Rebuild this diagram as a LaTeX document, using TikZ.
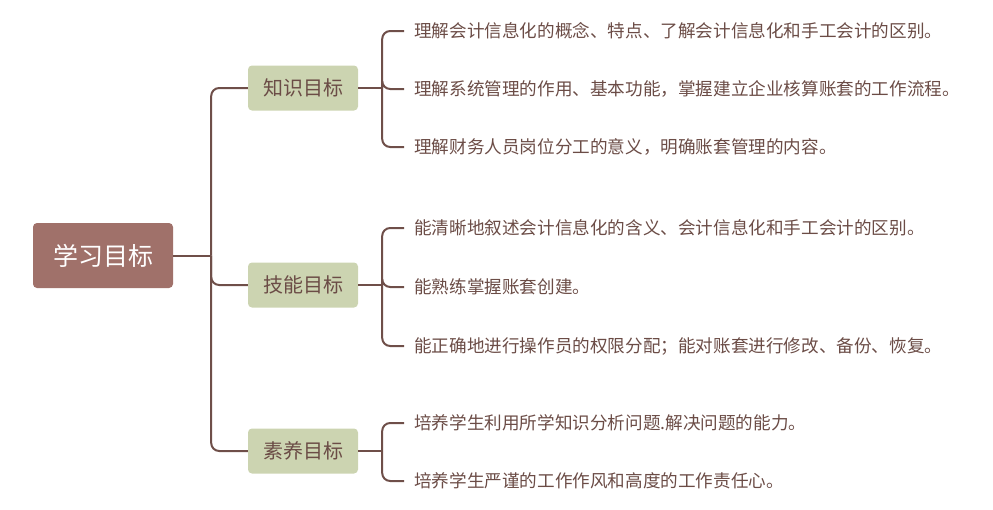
\documentclass[tikz,border=0pt]{standalone}
\usepackage{fontspec}
\usepackage{xcolor}
\usepackage{tikz}
\usetikzlibrary{positioning,calc}
\setmainfont{Noto Sans CJK SC}
\definecolor{rootbrown}{HTML}{A0716A}
\definecolor{branchsage}{HTML}{CCD4B1}
\definecolor{linkbrown}{HTML}{6F4F49}
\definecolor{textbrown}{HTML}{6B4C46}

\begin{document}
\begin{tikzpicture}[x=1pt,y=-1pt,
  rootbox/.style={fill=rootbrown,rounded corners=4pt,minimum width=140pt,minimum height=65pt,
    text=white,font=\fontsize{25}{30}\selectfont},
  branchbox/.style={fill=branchsage,rounded corners=4pt,minimum width=110pt,minimum height=45pt,
    text=textbrown,font=\fontsize{20}{24}\selectfont},
  leaf/.style={anchor=west,inner xsep=10pt,inner ysep=2pt,text=textbrown,font=\fontsize{17.6}{21}\selectfont},
  link/.style={draw=linkbrown,line width=2pt,rounded corners=8pt}]
  \useasboundingbox (0,0) rectangle (993,509);
  % root and branches
  \node[rootbox] (root) at (103,255.5) {学习目标};
  \node[branchbox] (know) at (303,88) {知识目标};
  \node[branchbox] (skill) at (303,285) {技能目标};
  \node[branchbox] (quality) at (303,451) {素养目标};
  % leaves
  \node[leaf] (know1) at (404,31) {理解会计信息化的概念、特点、了解会计信息化和手工会计的区别。};
  \node[leaf] (know2) at (404,89) {理解系统管理的作用、基本功能，掌握建立企业核算账套的工作流程。};
  \node[leaf] (know3) at (404,147) {理解财务人员岗位分工的意义，明确账套管理的内容。};
  \node[leaf] (skill1) at (404,228) {能清晰地叙述会计信息化的含义、会计信息化和手工会计的区别。};
  \node[leaf] (skill2) at (404,287) {能熟练掌握账套创建。};
  \node[leaf] (skill3) at (404,346) {能正确地进行操作员的权限分配；能对账套进行修改、备份、恢复。};
  \node[leaf] (quality1) at (404,423) {培养学生利用所学知识分析问题.解决问题的能力。};
  \node[leaf] (quality2) at (404,481) {培养学生严谨的工作作风和高度的工作责任心。};
  % forks
  \coordinate (rootfork) at ($(root.east)+(38,0)$);
  \coordinate (knowfork) at ($(know.east)+(24,0)$);
  \coordinate (skillfork) at ($(skill.east)+(24,0)$);
  \coordinate (qualityfork) at ($(quality.east)+(24,0)$);
  \draw[link] (root.east) -- (rootfork);
  \foreach \b in {know,skill,quality}
    \draw[link] (rootfork) |- (\b.west);
  \foreach \b/\n in {know/3,skill/3,quality/2} {
    \draw[link] (\b.east) -- (\b fork);
    \foreach \i in {1,...,\n}
      \draw[link] (\b fork) |- (\b\i.west);
  }
\end{tikzpicture}
\end{document}
